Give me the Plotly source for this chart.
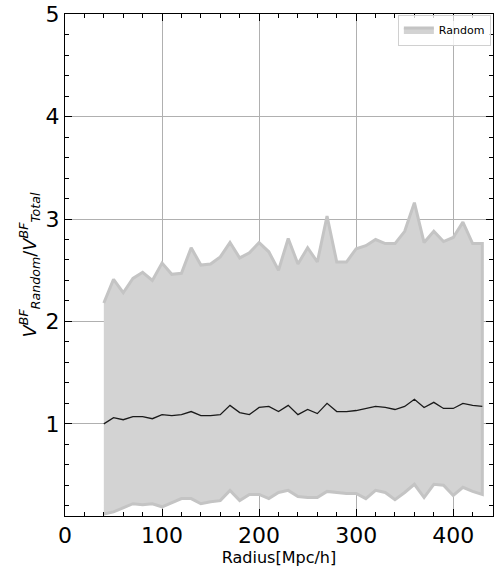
import plotly.graph_objects as go

# Radius bins [Mpc/h]
radius = [40, 50, 60, 70, 80, 90, 100, 110, 120, 130, 140, 150, 160, 170, 180,
          190, 200, 210, 220, 230, 240, 250, 260, 270, 280, 290, 300, 310, 320,
          330, 340, 350, 360, 370, 380, 390, 400, 410, 420, 430]

# Mean ratio of random to total best-fit volume
ratio_mean = [1.00, 1.06, 1.04, 1.07, 1.07, 1.05, 1.09, 1.08, 1.09, 1.12,
              1.08, 1.08, 1.09, 1.18, 1.11, 1.09, 1.16, 1.17, 1.12, 1.18,
              1.09, 1.14, 1.10, 1.20, 1.12, 1.12, 1.13, 1.15, 1.17, 1.16,
              1.14, 1.17, 1.24, 1.16, 1.21, 1.15, 1.15, 1.20, 1.18, 1.17]

# Upper and lower envelope of the random realisations
ratio_upper = [2.18, 2.41, 2.28, 2.42, 2.48, 2.40, 2.57, 2.46, 2.47, 2.72,
               2.55, 2.56, 2.63, 2.77, 2.62, 2.67, 2.77, 2.68, 2.50, 2.81,
               2.56, 2.72, 2.58, 3.03, 2.58, 2.58, 2.71, 2.74, 2.80, 2.76,
               2.76, 2.88, 3.16, 2.77, 2.88, 2.78, 2.82, 2.97, 2.76, 2.76]
ratio_lower = [0.12, 0.14, 0.18, 0.22, 0.21, 0.22, 0.19, 0.23, 0.27, 0.27,
               0.22, 0.24, 0.25, 0.35, 0.25, 0.31, 0.31, 0.27, 0.33, 0.35,
               0.29, 0.28, 0.28, 0.34, 0.33, 0.32, 0.32, 0.27, 0.35, 0.33,
               0.26, 0.33, 0.41, 0.28, 0.41, 0.40, 0.30, 0.38, 0.34, 0.31]

x_ticks = [0, 100, 200, 300, 400]
y_ticks = [1, 2, 3, 4, 5]

fig = go.Figure()

# Closed band polygon (upper edge forward, lower edge backward)
fig.add_trace(go.Scatter(
    x=radius + radius[::-1],
    y=ratio_upper + ratio_lower[::-1],
    fill="toself",
    fillcolor="#d3d3d3",
    line=dict(color="#c4c4c4", width=3),
    mode="lines",
    name="Random",
    hoverinfo="skip",
))

fig.add_trace(go.Scatter(
    x=radius, y=ratio_mean,
    mode="lines",
    line=dict(color="#1a1a1a", width=1.3),
    showlegend=False,
))

tick_font = dict(family="DejaVu Sans", size=22, color="black")
axis_common = dict(
    showline=True, linecolor="black", linewidth=1, mirror="allticks",
    ticks="inside", ticklen=7, tickwidth=1, tickcolor="black",
    showgrid=True, gridcolor="#b0b0b0", gridwidth=1,
    zeroline=False, tickfont=tick_font, layer="above traces",
    ticklabeloverflow="allow",
)

fig.update_xaxes(
    range=[0, 441], tickvals=x_ticks,
    minor=dict(ticks="inside", ticklen=4, dtick=20, tick0=0,
               tickcolor="black", showgrid=False),
    title=dict(text="Radius[Mpc/h]",
               font=dict(family="DejaVu Sans", size=16, color="black"),
               standoff=4),
    **axis_common,
)
fig.update_yaxes(
    range=[0.1, 5.002], tickvals=y_ticks,
    minor=dict(ticks="inside", ticklen=4, dtick=0.2, tick0=0,
               tickcolor="black", showgrid=False),
    title=dict(text="<i>V</i><sup><i>BF</i></sup><sub><i>Random</i></sub>"
                    "/<i>V</i><sup><i>BF</i></sup><sub><i>Total</i></sub>",
               font=dict(family="DejaVu Sans", size=18, color="black"),
               standoff=4),
    **axis_common,
)

fig.update_layout(
    width=496, height=573,
    margin=dict(l=65, r=2, t=12, b=57),
    plot_bgcolor="white", paper_bgcolor="white",
    legend=dict(
        x=0.995, y=0.999, xanchor="right", yanchor="top",
        bgcolor="rgba(255,255,255,0.8)", bordercolor="#d0d0d0", borderwidth=1,
        font=dict(family="DejaVu Sans", size=11, color="black"),
        itemwidth=30,
    ),
)

fig.write_html("out.html")
